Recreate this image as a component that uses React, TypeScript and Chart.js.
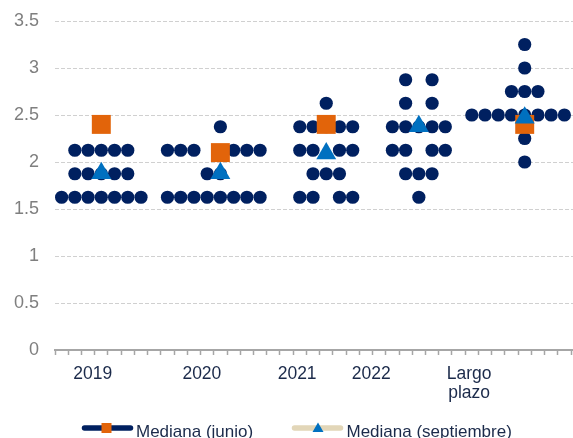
import { useEffect, useRef } from 'react';
import { Chart, registerables } from 'chart.js';

Chart.register(...registerables);

// ---- Data ----
const yTickValues = [0, 0.5, 1, 1.5, 2, 2.5, 3, 3.5];
const groupLabels: (string | string[])[] = ['2019', '2020', '2021', '2022', ['Largo', 'plazo']];
const groupLabelPos = [2.85, 11.1, 18.3, 23.9, 31.3];

// Participants' projections: rate levels and the x slots of each dot on that level
const rates2019 = [1.625, 1.875, 2.125];
const slots2019 = [
  [0.5, 1.5, 2.5, 3.5, 4.5, 5.5, 6.5],
  [1.5, 2.5, 3.5, 4.5, 5.5],
  [1.5, 2.5, 3.5, 4.5, 5.5],
];

const rates2020 = [1.625, 1.875, 2.125, 2.375];
const slots2020 = [
  [8.5, 9.5, 10.5, 11.5, 12.5, 13.5, 14.5, 15.5],
  [11.5, 12.5],
  [8.5, 9.5, 10.5, 13.5, 14.5, 15.5],
  [12.5],
];

const rates2021 = [1.625, 1.875, 2.125, 2.375, 2.625];
const slots2021 = [
  [18.5, 19.5, 21.5, 22.5],
  [19.5, 20.5, 21.5],
  [18.5, 19.5, 21.5, 22.5],
  [18.5, 19.5, 20.5, 21.5, 22.5],
  [20.5],
];

const rates2022 = [1.625, 1.875, 2.125, 2.375, 2.625, 2.875];
const slots2022 = [
  [27.5],
  [26.5, 27.5, 28.5],
  [25.5, 26.5, 28.5, 29.5],
  [25.5, 26.5, 27.5, 28.5, 29.5],
  [26.5, 28.5],
  [26.5, 28.5],
];

const ratesLong = [2.0, 2.25, 2.5, 2.75, 3.0, 3.25];
const slotsLong = [
  [35.5],
  [35.5],
  [31.5, 32.5, 33.5, 34.5, 35.5, 36.5, 37.5, 38.5],
  [34.5, 35.5, 36.5],
  [35.5],
  [35.5],
];

// Medians
const juneMedianX = [3.5, 12.5, 20.5, 35.5];
const juneMedian = [2.4, 2.1, 2.4, 2.4];
const sepMedianX = [3.5, 12.5, 20.5, 27.5, 35.5];
const sepMedian = [1.88, 1.88, 2.09, 2.38, 2.47];

// ---- Styles ----
const NAVY = '#002060';
const ORANGE = '#E2640A';
const BLUE = '#0070C0';
const BEIGE = '#E2D6B8';
const TEXT_NAVY = '#1B2A4A';
const AXIS_GRAY = '#A6A6A6';
const FONT = '"Liberation Sans", Arial, Helvetica, sans-serif';

function buildDots() {
  const groups: [number[], number[][]][] = [
    [rates2019, slots2019],
    [rates2020, slots2020],
    [rates2021, slots2021],
    [rates2022, slots2022],
    [ratesLong, slotsLong],
  ];
  const pts: { x: number; y: number }[] = [];
  groups.forEach(([rates, slots]) => {
    rates.forEach((r, i) => {
      slots[i].forEach((s) => pts.push({ x: s, y: r }));
    });
  });
  return pts;
}

export default function App() {
  const ref = useRef<HTMLCanvasElement>(null);

  useEffect(() => {
    if (!ref.current) return;
    Chart.defaults.font.family = FONT;

    const legendPlugin = {
      id: 'customLegend',
      afterDraw(chart: any) {
        const ctx = chart.ctx as CanvasRenderingContext2D;
        const ds = chart.data.datasets;
        const ly = chart.chartArea.bottom + 78;
        const ty = ly + 8.5;
        ctx.save();
        ctx.lineCap = 'round';
        // item 1
        ctx.strokeStyle = NAVY;
        ctx.lineWidth = 5.5;
        ctx.beginPath();
        ctx.moveTo(84.5, ly);
        ctx.lineTo(130.5, ly);
        ctx.stroke();
        ctx.fillStyle = ds[1].backgroundColor;
        ctx.fillRect(101.5, ly - 5, 10, 10);
        ctx.font = '17px ' + FONT;
        ctx.fillStyle = TEXT_NAVY;
        ctx.textBaseline = 'alphabetic';
        ctx.textAlign = 'left';
        ctx.fillText(ds[1].label, 136, ty);
        // item 2
        ctx.strokeStyle = BEIGE;
        ctx.beginPath();
        ctx.moveTo(294.5, ly);
        ctx.lineTo(340.5, ly);
        ctx.stroke();
        ctx.fillStyle = ds[0].backgroundColor;
        ctx.beginPath();
        ctx.moveTo(318, ly - 5.5);
        ctx.lineTo(323.5, ly + 4);
        ctx.lineTo(312.5, ly + 4);
        ctx.closePath();
        ctx.fill();
        ctx.fillStyle = TEXT_NAVY;
        ctx.fillText(ds[0].label, 346.5, ty);
        ctx.restore();
      },
    };

    const labelFor = (v: number) => {
      const i = groupLabelPos.findIndex((p) => Math.abs(p - v) < 1e-6);
      return i >= 0 ? groupLabels[i] : '';
    };

    const chart = new Chart(ref.current, {
      type: 'scatter',
      data: {
        datasets: [
          {
            label: 'Mediana (septiembre)',
            data: sepMedianX.map((x, i) => ({ x, y: sepMedian[i] })),
            pointStyle: 'triangle',
            pointRadius: 11.5,
            backgroundColor: BLUE,
            borderWidth: 0,
            order: 1,
            clip: false,
          } as any,
          {
            label: 'Mediana (junio)',
            data: juneMedianX.map((x, i) => ({ x, y: juneMedian[i] })),
            pointStyle: 'rect',
            pointRadius: 13.4,
            backgroundColor: ORANGE,
            borderWidth: 0,
            order: 2,
            clip: false,
          } as any,
          {
            label: 'Participantes',
            data: buildDots(),
            pointStyle: 'circle',
            pointRadius: 6.6,
            backgroundColor: NAVY,
            borderWidth: 0,
            order: 3,
            clip: false,
          } as any,
        ],
      },
      options: {
        animation: false,
        responsive: true,
        maintainAspectRatio: false,
        events: [],
        layout: { autoPadding: false, padding: { top: 21, left: 0, right: 0, bottom: 0 } },
        plugins: {
          legend: { display: false },
          tooltip: { enabled: false },
        },
        scales: {
          x: {
            type: 'linear',
            min: 0,
            max: 39.15,
            afterBuildTicks: (s: any) => {
              const t: { value: number }[] = [];
              for (let i = 0; i <= 39; i++) t.push({ value: i });
              groupLabelPos.forEach((p) => t.push({ value: p }));
              t.sort((a, b) => a.value - b.value);
              s.ticks = t;
            },
            afterFit: (s: any) => {
              s.height = 88;
              s.paddingLeft = 0;
              s.paddingRight = 0;
            },
            ticks: {
              autoSkip: false,
              maxRotation: 0,
              minRotation: 0,
              padding: 9,
              color: TEXT_NAVY,
              font: { size: 17.5, lineHeight: 1.12 },
              callback: (v: any) => labelFor(Number(v)) as any,
            },
            grid: {
              display: true,
              drawOnChartArea: false,
              drawTicks: true,
              tickLength: 5,
              tickWidth: 1.5,
              tickColor: (c: any) =>
                c.tick && Number.isInteger(c.tick.value) ? AXIS_GRAY : 'rgba(0,0,0,0)',
            },
            border: { display: true, color: AXIS_GRAY, width: 2 },
          },
          y: {
            type: 'linear',
            min: 0,
            max: 3.5,
            afterBuildTicks: (s: any) => {
              s.ticks = yTickValues.map((v) => ({ value: v }));
            },
            afterFit: (s: any) => {
              s.width = 55;
              s.paddingTop = 0;
              s.paddingBottom = 0;
            },
            ticks: {
              padding: 16,
              color: '#7F7F7F',
              font: { size: 18 },
              callback: (v: any) => String(v),
            },
            grid: {
              drawTicks: false,
              lineWidth: 1,
              color: (c: any) => (c.tick && c.tick.value === 0 ? 'rgba(0,0,0,0)' : '#D0D0D0'),
            },
            border: { display: false, dash: [4, 2] },
          },
        },
      } as any,
      plugins: [legendPlugin],
    });

    return () => chart.destroy();
  }, []);

  return (
    <div style={{ position: 'fixed', left: 0, top: 0, width: 573, height: 438 }}>
      <canvas ref={ref} />
    </div>
  );
}
